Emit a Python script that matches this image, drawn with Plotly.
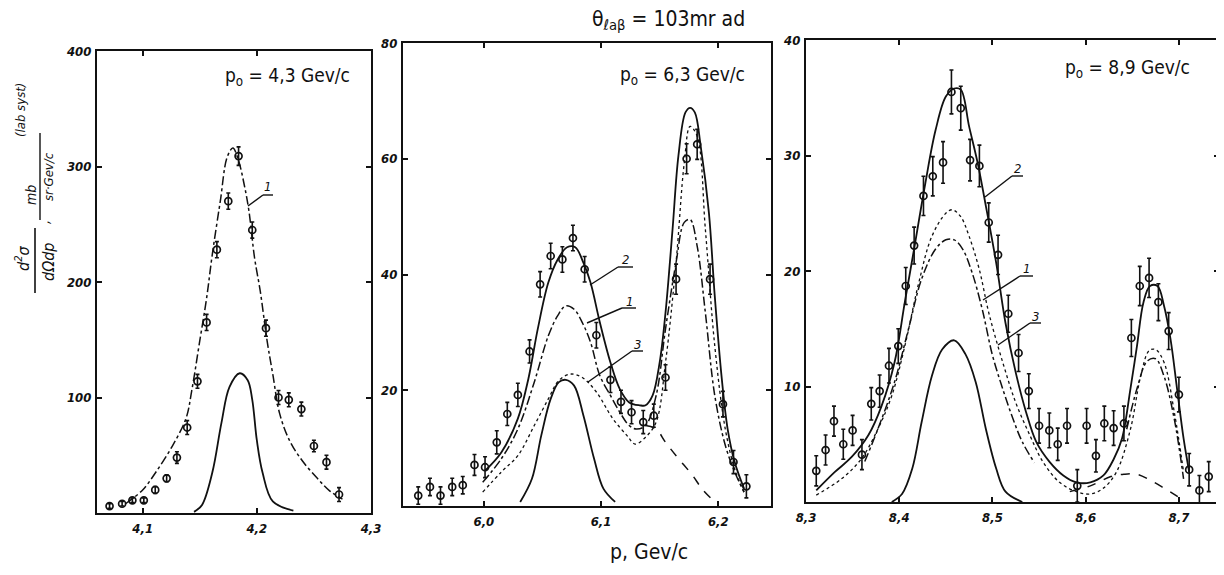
import plotly.graph_objects as go

# ---------------- data ----------------
# Panel 1 : p0 = 4.3 GeV/c
p1_x = [4.071, 4.082, 4.091, 4.101, 4.111, 4.121, 4.130, 4.139, 4.148, 4.156, 4.165,
        4.175, 4.184, 4.196, 4.208, 4.219, 4.228, 4.239, 4.250, 4.261, 4.272]
p1_y = [6, 8, 11, 11, 20, 30, 48, 74, 114, 165, 228, 270, 309, 245, 160, 100, 98, 90, 58, 44, 16]
p1_err = [2, 2, 2, 2, 3, 3, 5, 6, 6, 7, 7, 7, 8, 7, 7, 6, 6, 6, 5, 6, 6]
p1_c1_x = [4.085, 4.100, 4.112, 4.126, 4.138, 4.143, 4.150, 4.156, 4.161, 4.168, 4.174, 4.179,
           4.184, 4.189, 4.193, 4.198, 4.203, 4.209, 4.214, 4.220, 4.229, 4.240, 4.253, 4.264, 4.275]
p1_c1_y = [8, 20, 36, 58, 82, 106, 149, 186, 224, 270, 308, 316, 305, 284, 262, 221, 192, 149,
           120, 86, 62, 45, 30, 19, 12]
p1_s_x = [4.145, 4.152, 4.161, 4.169, 4.176, 4.185, 4.192, 4.196, 4.200, 4.205, 4.214, 4.232]
p1_s_y = [1, 7, 35, 78, 109, 121, 115, 98, 63, 35, 10, 2]

# Panel 2 : p0 = 6.3 GeV/c
p2_x = [5.944, 5.954, 5.963, 5.973, 5.982, 5.992, 6.001, 6.011, 6.020, 6.029, 6.039, 6.048,
        6.057, 6.067, 6.076, 6.086, 6.096, 6.108, 6.117, 6.126, 6.136, 6.145, 6.155, 6.164,
        6.173, 6.182, 6.193, 6.204, 6.213, 6.224]
p2_y = [1.8, 3.3, 1.8, 3.3, 3.6, 7.1, 6.7, 11.0, 15.9, 19.2, 26.7, 38.3, 43.2, 42.6, 46.3,
        40.9, 29.5, 21.8, 18.0, 16.2, 14.5, 15.6, 22.2, 39.2, 60.0, 62.5, 39.2, 17.6, 7.6, 3.4]
p2_err = [1.5, 1.5, 1.5, 1.5, 1.5, 1.8, 1.8, 2.0, 2.0, 2.0, 2.0, 2.2, 2.2, 2.2, 2.2, 2.2,
          2.2, 2.2, 2.0, 2.0, 2.0, 2.0, 2.2, 2.6, 2.6, 2.6, 2.6, 2.2, 2.0, 2.0]
p2_c2_x = [6.001, 6.015, 6.029, 6.038, 6.046, 6.055, 6.063, 6.071, 6.078, 6.085, 6.091, 6.099,
           6.108, 6.116, 6.124, 6.133, 6.138, 6.144, 6.150, 6.155, 6.161, 6.166, 6.172, 6.176,
           6.180, 6.185, 6.192, 6.197, 6.203, 6.208, 6.214, 6.222]
p2_c2_y = [6.1, 9.3, 15.1, 22.0, 30.6, 38.6, 42.6, 44.7, 44.7, 42.0, 38.6, 31.7, 24.8, 20.2,
           17.9, 17.4, 17.4, 19.1, 24.8, 33.4, 47.8, 60.5, 68.0, 68.8, 68.0, 62.2, 50.7, 36.3,
           22.0, 13.3, 7.6, 3.0]
p2_c1_x = [5.999, 6.015, 6.029, 6.043, 6.055, 6.063, 6.070, 6.077, 6.084, 6.091, 6.099, 6.108,
           6.116, 6.124, 6.130, 6.138, 6.147, 6.155, 6.164, 6.171, 6.176, 6.182, 6.189, 6.197,
           6.206, 6.214, 6.222]
p2_c1_y = [4.1, 8.2, 13.3, 21.4, 29.4, 32.9, 34.6, 34.0, 31.7, 28.3, 22.5, 19.1, 16.2, 13.9,
           13.3, 13.9, 19.1, 30.6, 42.1, 49.0, 49.5, 44.9, 33.4, 19.1, 10.5, 5.9, 2.4]
p2_c3_x = [5.999, 6.015, 6.029, 6.043, 6.055, 6.064, 6.074, 6.084, 6.096, 6.110, 6.122, 6.129,
           6.138, 6.147, 6.155, 6.164, 6.171, 6.176, 6.182, 6.189, 6.197, 6.206, 6.214, 6.222]
p2_c3_y = [2.4, 5.9, 8.7, 13.9, 18.5, 21.7, 22.8, 22.2, 19.7, 15.1, 12.2, 10.7, 11.9, 14.5,
           24.8, 42.1, 59.3, 65.6, 63.9, 47.8, 27.7, 13.3, 6.4, 2.4]
p2_bg_x = [6.138, 6.147, 6.155, 6.166, 6.178, 6.186, 6.194]
p2_bg_y = [13.9, 13.3, 11.0, 8.2, 5.3, 3.0, 1.3]
p2_s_x = [6.031, 6.041, 6.049, 6.057, 6.064, 6.070, 6.077, 6.085, 6.094, 6.102, 6.112]
p2_s_y = [0.7, 4.7, 12.2, 18.5, 21.4, 21.8, 20.8, 15.6, 8.2, 3.0, 0.7]

# Panel 3 : p0 = 8.9 GeV/c
p3_x = [8.311, 8.321, 8.330, 8.340, 8.350, 8.360, 8.370, 8.379, 8.389, 8.399, 8.407, 8.416,
        8.426, 8.436, 8.447, 8.456, 8.466, 8.476, 8.486, 8.496, 8.506, 8.517, 8.528, 8.539,
        8.550, 8.561, 8.570, 8.580, 8.591, 8.601, 8.611, 8.620, 8.630, 8.641, 8.649, 8.658,
        8.668, 8.678, 8.689, 8.700, 8.711, 8.722, 8.732]
p3_y = [2.7, 4.5, 7.0, 5.0, 6.2, 4.1, 8.5, 9.6, 11.8, 13.5, 18.7, 22.2, 26.5, 28.2, 29.4,
        35.5, 34.1, 29.6, 29.1, 24.2, 21.4, 16.3, 12.9, 9.6, 6.6, 6.2, 5.0, 6.6, 1.4, 6.6,
        4.0, 6.8, 6.4, 6.8, 14.2, 18.7, 19.4, 17.3, 14.8, 9.3, 2.8, 1.0, 2.2]
p3_err = [1.3, 1.3, 1.3, 1.3, 1.3, 1.3, 1.4, 1.4, 1.5, 1.5, 1.6, 1.6, 1.7, 1.7, 1.8,
          1.9, 1.9, 1.8, 1.8, 1.7, 1.7, 1.6, 1.6, 1.5, 1.5, 1.5, 1.4, 1.5, 1.4, 1.5,
          1.4, 1.5, 1.5, 1.5, 1.6, 1.7, 1.7, 1.6, 1.6, 1.5, 1.4, 1.3, 1.3]
p3_c2_x = [8.311, 8.331, 8.349, 8.367, 8.381, 8.395, 8.406, 8.417, 8.428, 8.439, 8.450, 8.459,
           8.466, 8.475, 8.484, 8.493, 8.504, 8.514, 8.525, 8.536, 8.547, 8.561, 8.576, 8.590,
           8.605, 8.619, 8.630, 8.639, 8.648, 8.655, 8.662, 8.669, 8.677, 8.684, 8.691, 8.698,
           8.705, 8.711]
p3_c2_y = [1.0, 2.6, 3.9, 5.8, 8.3, 12.1, 17.3, 22.4, 27.6, 32.2, 35.1, 35.8, 35.7, 32.5,
           29.4, 25.6, 20.7, 15.5, 11.2, 7.8, 5.2, 3.5, 2.3, 1.7, 1.7, 2.3, 3.7, 5.5, 9.8,
           13.5, 17.3, 18.7, 18.7, 17.0, 14.1, 9.8, 5.5, 2.6]
p3_c3_x = [8.311, 8.338, 8.359, 8.377, 8.392, 8.406, 8.421, 8.435, 8.450, 8.457, 8.466, 8.475,
           8.486, 8.496, 8.511, 8.525, 8.540, 8.554, 8.572, 8.590, 8.605, 8.619, 8.633, 8.648,
           8.659, 8.668, 8.675, 8.684, 8.695, 8.705]
p3_c3_y = [0.6, 2.0, 3.7, 6.3, 9.2, 13.5, 19.0, 23.0, 25.0, 25.3, 24.7, 23.0, 20.1, 16.4,
           12.1, 8.6, 5.8, 3.5, 1.7, 0.9, 0.7, 1.2, 2.6, 6.3, 10.9, 13.1, 13.2, 12.1, 7.8, 2.6]
p3_c1a_x = [8.363, 8.377, 8.395, 8.410, 8.424, 8.439, 8.450, 8.459, 8.468, 8.478, 8.489, 8.500,
            8.511, 8.522, 8.532, 8.545]
p3_c1a_y = [3.5, 6.3, 10.4, 15.0, 19.3, 21.9, 22.7, 22.7, 21.9, 19.9, 16.7, 12.7, 9.8, 7.2,
            5.2, 3.4]
p3_c1b_x = [8.644, 8.655, 8.666, 8.675, 8.684, 8.695, 8.705]
p3_c1b_y = [6.3, 9.8, 12.2, 12.4, 10.9, 7.2, 2.0]
p3_bg_x = [8.583, 8.605, 8.627, 8.641, 8.655, 8.669, 8.684, 8.700]
p3_bg_y = [0.9, 1.4, 2.2, 2.4, 2.4, 1.9, 1.2, 0.4]
p3_s_x = [8.392, 8.403, 8.414, 8.424, 8.435, 8.446, 8.459, 8.471, 8.482, 8.493, 8.504, 8.514, 8.532]
p3_s_y = [0.0, 0.7, 2.9, 6.9, 10.9, 13.2, 14.0, 12.8, 10.4, 6.3, 2.9, 0.9, 0.0]

# ticks
p1_xticks = [4.1, 4.2, 4.3]; p1_xlabels = ['4,1', '4,2', '4,3']
p1_yticks = [100, 200, 300, 400]; p1_ylabels = ['100', '200', '300', '400']
p2_xticks = [6.0, 6.1, 6.2]; p2_xlabels = ['6,0', '6,1', '6,2']
p2_yticks = [20, 40, 60, 80]; p2_ylabels = ['20', '40', '60', '80']
p3_xticks = [8.3, 8.4, 8.5, 8.6, 8.7]; p3_xlabels = ['8,3', '8,4', '8,5', '8,6', '8,7']
p3_yticks = [10, 20, 30, 40]; p3_ylabels = ['10', '20', '30', '40']

panel_titles = ['p<sub>o</sub> = 4,3 Gev/c', 'p<sub>o</sub> = 6,3 Gev/c', 'p<sub>o</sub> = 8,9 Gev/c']

# ---------------- figure ----------------
# the page body has an 8px margin: the figure is sized to fit the window
OFF = 8
W, H = 1224 - OFF, 575 - OFF
def px(x):
    return (x - OFF) / W
def py(y):
    return 1 - (y - OFF) / H

INK = '#111111'
fig = go.Figure()

def pts(x, y, err, ax):
    fig.add_trace(go.Scatter(
        x=x, y=y, mode='markers', xaxis='x' + ax, yaxis='y' + ax,
        marker=dict(symbol='circle-open', size=7, color=INK, line=dict(width=1.7, color=INK)),
        error_y=dict(type='data', array=err, color=INK, thickness=1.6, width=2),
        showlegend=False, hoverinfo='x+y'))

def curve(x, y, ax, dash='solid', width=1.8):
    fig.add_trace(go.Scatter(
        x=x, y=y, mode='lines', xaxis='x' + ax, yaxis='y' + ax,
        line=dict(color=INK, width=width, dash=dash, shape='spline', smoothing=1.0),
        showlegend=False, hoverinfo='skip'))

# panel 1
curve(p1_c1_x, p1_c1_y, '', 'dashdot', 1.5)
curve(p1_s_x, p1_s_y, '')
pts(p1_x, p1_y, p1_err, '')
# panel 2
curve(p2_c2_x, p2_c2_y, '2')
curve(p2_c1_x, p2_c1_y, '2', 'dashdot', 1.5)
curve(p2_c3_x, p2_c3_y, '2', 'dot', 1.3)
curve(p2_bg_x, p2_bg_y, '2', 'dash', 1.5)
curve(p2_s_x, p2_s_y, '2')
pts(p2_x, p2_y, p2_err, '2')
# panel 3
curve(p3_c2_x, p3_c2_y, '3')
curve(p3_c3_x, p3_c3_y, '3', 'dot', 1.3)
curve(p3_c1a_x, p3_c1a_y, '3', 'dashdot', 1.5)
curve(p3_c1b_x, p3_c1b_y, '3', 'dashdot', 1.5)
curve(p3_bg_x, p3_bg_y, '3', 'dash', 1.5)
curve(p3_s_x, p3_s_y, '3')
pts(p3_x, p3_y, p3_err, '3')

tickfont = dict(family='DejaVu Sans Condensed, DejaVu Sans', size=13, color=INK,
                style='italic', weight='bold')

def xax(dom, rng, tv, tt, anchor):
    return dict(domain=[px(dom[0]), px(dom[1])], range=rng, anchor=anchor, automargin=False,
                tickvals=tv, ticktext=tt, showline=True, linecolor=INK, linewidth=2,
                mirror='allticks', ticks='inside', ticklen=5, tickwidth=1.5, tickcolor=INK,
                showgrid=False, zeroline=False, tickfont=tickfont, ticklabelstandoff=2)

def yax(dom, rng, tv, tt, anchor):
    return dict(domain=[py(dom[1]), py(dom[0])], range=rng, anchor=anchor, automargin=False,
                tickvals=tv, ticktext=tt, showline=True, linecolor=INK, linewidth=2,
                mirror='allticks', ticks='inside', ticklen=5, tickwidth=1.5, tickcolor=INK,
                showgrid=False, zeroline=False, tickfont=tickfont, ticklabelstandoff=1)

fig.update_layout(
    width=W, height=H, margin=dict(l=0, r=0, t=0, b=0, pad=0),
    paper_bgcolor='white', plot_bgcolor='white',
    xaxis=xax((97, 371), [4.06, 4.30], p1_xticks, p1_xlabels, 'y'),
    yaxis=yax((51, 513), [0, 400], p1_yticks, p1_ylabels, 'x'),
    xaxis2=xax((403, 771), [5.931, 6.245], p2_xticks, p2_xlabels, 'y2'),
    yaxis2=yax((43, 506), [0, 80], p2_yticks, p2_ylabels, 'x2'),
    xaxis3=xax((806, 1219), [8.3, 8.743], p3_xticks, p3_xlabels, 'y3'),
    yaxis3=yax((40, 502), [0, 40], p3_yticks, p3_ylabels, 'x3'),
)

TXT = 'DejaVu Sans Condensed, DejaVu Sans'
ann = []
def label(x, y, text, size, angle=0, italic=False, family=TXT):
    f = dict(family=family, size=size, color=INK)
    if italic:
        f['style'] = 'italic'
    ann.append(dict(x=px(x), y=py(y), xref='paper', yref='paper', text=text,
                    showarrow=False, font=f, textangle=angle,
                    xanchor='center', yanchor='middle'))

# titles
label(668, 20, 'θ<sub>ℓaβ</sub> = 103mr ad', 21)
label(287, 77, panel_titles[0], 19)
label(682, 75, panel_titles[1], 19)
label(1127, 68, panel_titles[2], 19)
label(649, 552, 'p, Gev/c', 21)

# y-axis label (two fractions, rotated)
label(22, 258, 'd<sup>2</sup>σ', 16, -90, True)
label(48, 262, 'dΩdp', 16, -90, True)
label(31, 195, 'mb', 14, -90, True)
label(49, 177, 'sr·Gev/c', 13, -90, True)
label(20, 110, '(lab syst)', 13, -90, True)
label(44, 222, ',', 14, -90, True)

# curve number labels
label(267, 186, '1', 13, 0, True)
label(625, 259, '2', 13, 0, True)
label(629, 301, '1', 13, 0, True)
label(637, 344, '3', 13, 0, True)
label(1017, 169, '2', 13, 0, True)
label(1026, 269, '1', 13, 0, True)
label(1035, 316, '3', 13, 0, True)
fig.update_layout(annotations=ann)

shapes = []
def seg(x0, y0, x1, y1, w=1.4):
    shapes.append(dict(type='line', xref='paper', yref='paper',
                       x0=px(x0), y0=py(y0), x1=px(x1), y1=py(y1),
                       line=dict(color=INK, width=w)))

# fraction bars
seg(35, 228, 35, 293, 1.6)
seg(40, 133, 40, 220, 1.4)
# leader lines
seg(248, 206, 263, 195); seg(263, 195, 273, 195)
seg(590, 285, 618, 267); seg(618, 267, 633, 267)
seg(587, 323, 622, 308); seg(622, 308, 636, 308)
seg(588, 382, 632, 351); seg(632, 351, 643, 351)
seg(985, 197, 1012, 176); seg(1012, 176, 1023, 176)
seg(983, 300, 1020, 276); seg(1020, 276, 1033, 276)
seg(998, 345, 1030, 323); seg(1030, 323, 1041, 323)
fig.update_layout(shapes=shapes)

fig.write_html('out.html')
